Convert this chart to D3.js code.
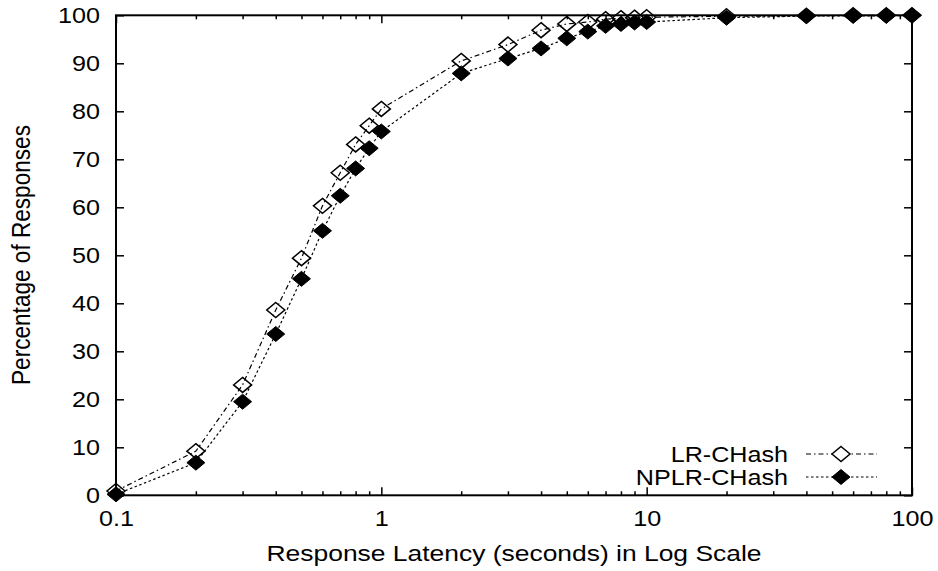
<!DOCTYPE html>
<html><head><meta charset="utf-8">
<script src="https://cdn.jsdelivr.net/npm/d3@7"></script>
<style>body{margin:0;background:#fff}svg{display:block}text{font-family:"Liberation Sans",Arial,sans-serif;fill:#000}</style>
</head><body><svg id="c" width="938" height="571"></svg>
<script>
const latency = [0.1,0.2,0.3,0.4,0.5,0.6,0.7,0.8,0.9,1,2,3,4,5,6,7,8,9,10,20,40,60,80,100];
const lrCHash = [0.9,9.2,23.0,38.6,49.4,60.3,67.2,73.1,77.0,80.5,90.5,93.9,96.9,98.2,98.6,99.2,99.4,99.5,99.6,99.8,99.9,100,100,100];
const nplrCHash = [0.2,6.8,19.5,33.6,45.1,55.1,62.4,68.1,72.3,75.8,87.9,91.0,93.1,95.2,96.6,97.8,98.2,98.5,98.6,99.5,99.85,99.9,99.9,100];
const yTicks = [0,10,20,30,40,50,60,70,80,90,100];
const xMajor = [0.1,1,10,100];
const xMinor = [0.2,0.3,0.4,0.5,0.6,0.7,0.8,0.9,2,3,4,5,6,7,8,9,20,30,40,50,60,70,80,90];
const seriesNames = ["LR-CHash","NPLR-CHash"];

const L=116,R=912,T=15.3,B=495.3, SX=1.17;
const svg=d3.select("#c");
const x=d3.scaleLog().domain([0.1,100]).range([L,R]);
const y=d3.scaleLinear().domain([0,100]).range([B,T]);
const fmtX=d=>d<1?"0.1":String(d);

function styleAxis(g){g.select(".domain").remove();g.selectAll("line").attr("stroke","#000").attr("stroke-width",1.5);}

// left axis
const gl=svg.append("g").attr("transform",`translate(${L},0)`).call(d3.axisLeft(y).tickValues(yTicks).tickSize(-8).tickPadding(0));
styleAxis(gl);
gl.selectAll("text").attr("x",null).attr("text-anchor","end").attr("font-size",21.5)
  .attr("transform",function(){return `translate(-16,0) scale(${SX},1)`;});
// right axis
const gr=svg.append("g").attr("transform",`translate(${R},0)`).call(d3.axisRight(y).tickValues(yTicks).tickSize(-8).tickFormat(""));
styleAxis(gr);
// bottom
const gb=svg.append("g").attr("transform",`translate(0,${B})`).call(d3.axisBottom(x).tickValues(xMajor).tickSize(-8).tickFormat(fmtX).tickPadding(0));
styleAxis(gb);
gb.selectAll("text").attr("y",null).attr("dy",null).attr("font-size",21.5)
  .attr("transform",`translate(0,31) scale(${SX},1)`);
const gbm=svg.append("g").attr("transform",`translate(0,${B})`).call(d3.axisBottom(x).tickValues(xMinor).tickSize(-4).tickFormat(""));
styleAxis(gbm);
// top
const gt=svg.append("g").attr("transform",`translate(0,${T})`).call(d3.axisTop(x).tickValues(xMajor).tickSize(-8).tickFormat(""));
styleAxis(gt);
const gtm=svg.append("g").attr("transform",`translate(0,${T})`).call(d3.axisTop(x).tickValues(xMinor).tickSize(-4).tickFormat(""));
styleAxis(gtm);
// frame
svg.append("rect").attr("x",L).attr("y",T).attr("width",R-L).attr("height",B-T).attr("fill","none").attr("stroke","#000").attr("stroke-width",2);

// titles
svg.append("text").attr("text-anchor","middle").attr("font-size",22.6)
  .attr("transform",`translate(514,561) scale(${SX},1)`).text("Response Latency (seconds) in Log Scale");
svg.append("text").attr("text-anchor","middle").attr("font-size",22.6)
  .attr("transform",`translate(30,255) scale(${SX},1) rotate(-90)`).text("Percentage of Responses");

const W=9,H=7.5;
const diamond=`M0,${-H}L${W},0L0,${H}L${-W},0Z`;
const dashes=["5,3,1.5,3","2.5,2.5"];
const data=[lrCHash,nplrCHash];
const line=d3.line().x((d,i)=>x(latency[i])).y(d=>y(d));
data.forEach((vals,si)=>{
  svg.append("path").attr("d",line(vals)).attr("fill","none").attr("stroke","#000").attr("stroke-width",1.2).attr("stroke-dasharray",dashes[si]);
  svg.append("g").selectAll("path").data(vals).join("path")
    .attr("d",diamond).attr("transform",(d,i)=>`translate(${x(latency[i])},${y(d)})`)
    .attr("fill",si?"#000":"none").attr("stroke","#000").attr("stroke-width",si?1:1.5);
});

// legend
const legY=[454,477];
seriesNames.forEach((n,si)=>{
  svg.append("text").attr("text-anchor","end").attr("font-size",21.5)
    .attr("transform",`translate(788,${legY[si]+7.5}) scale(${SX},1)`).text(n);
  svg.append("line").attr("x1",806).attr("x2",877).attr("y1",legY[si]).attr("y2",legY[si])
    .attr("stroke","#000").attr("stroke-width",1.2).attr("stroke-dasharray",dashes[si]);
  svg.append("path").attr("d",diamond).attr("transform",`translate(841,${legY[si]})`)
    .attr("fill",si?"#000":"#fff").attr("stroke","#000").attr("stroke-width",si?1:1.5);
});
</script></body></html>
